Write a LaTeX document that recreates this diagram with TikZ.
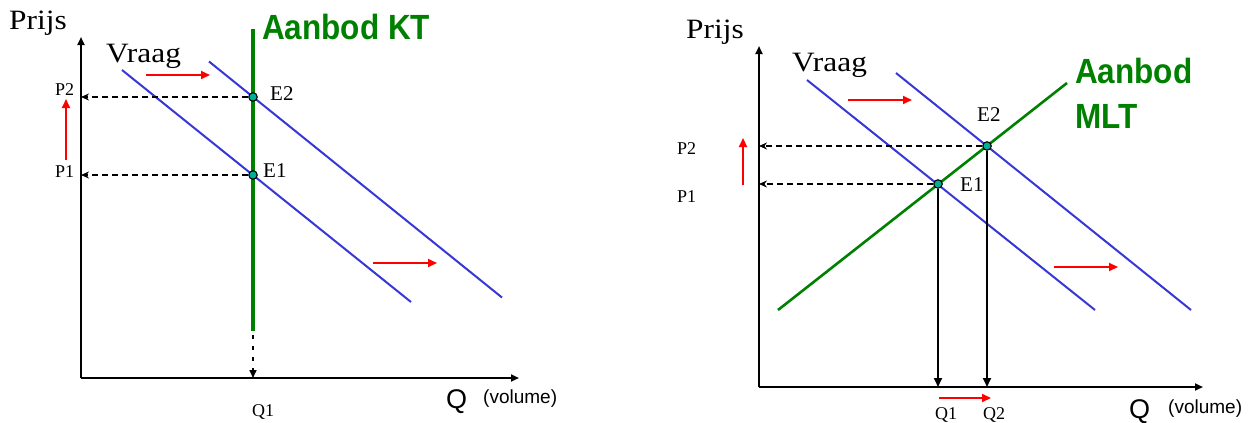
\documentclass[tikz,border=0pt]{standalone}
\usepackage{fontspec}
\setmainfont{Liberation Serif}
\newfontfamily\sansf{Liberation Sans}
\usetikzlibrary{arrows.meta}
\definecolor{dblue}{RGB}{55,55,215}
\definecolor{dgreen}{RGB}{0,128,0}
\definecolor{dotfill}{RGB}{0,175,150}
\begin{document}
\begin{tikzpicture}[x=1pt,y=-1pt,
  axis/.style={line width=2.2pt, -{Triangle[length=8pt,width=7pt]}},
  demand/.style={dblue, line width=2pt},
  supply/.style={dgreen, line width=2.6pt},
  supplyv/.style={dgreen, line width=4pt},
  shiftarr/.style={red, line width=2pt, -{Triangle[length=9pt,width=8pt]}},
  pdash/.style={line width=1.6pt, dash pattern=on 6pt off 4pt, -{Stealth[length=8pt,width=7pt]}},
  dotarr/.style={line width=1.6pt, dash pattern=on 4pt off 7pt, -{Triangle[length=8pt,width=7pt]}},
  vline/.style={line width=1.7pt, -{Triangle[length=9pt,width=8pt]}},
  eqdot/.style={circle, draw=black, fill=dotfill, inner sep=0pt, minimum size=8.5pt, line width=1.1pt},
  lab/.style={inner sep=0pt, anchor=base west},
  bigserif/.style={font=\fontsize{28}{28}\selectfont},
  small/.style={font=\fontsize{18}{18}\selectfont},
  elab/.style={font=\fontsize{21}{21}\selectfont},
  greenlab/.style={text=dgreen, font=\sansf\bfseries\fontsize{35}{35}\selectfont},
  qlab/.style={font=\sansf\fontsize{27}{27}\selectfont},
  vollab/.style={font=\sansf\fontsize{19}{19}\selectfont}
]
\fill[white] (0,0) rectangle (1251,423);
\useasboundingbox (0,0) rectangle (1251,423);

% ---------------- Left diagram ----------------
\coordinate (OL) at (81,378);
\coordinate (YL) at (81,37);
\coordinate (XL) at (519,378);
\draw[axis] (OL) -- (YL);
\draw[axis] (OL) -- (XL);

\coordinate (D1La) at (122,70);  \coordinate (D1Lb) at (411,302);
\coordinate (D2La) at (209,61.5);  \coordinate (D2Lb) at (502,297.5);
\draw[demand] (D1La) -- (D1Lb);
\draw[demand] (D2La) -- (D2Lb);

\coordinate (SLt) at (253,29); \coordinate (SLb) at (253,331);
\draw[supplyv] (SLt) -- (SLb);
\coordinate (SLd) at (253,335); \coordinate (Q1Lax) at (253,378);
\draw[dotarr] (SLd) -- (Q1Lax);

\node[eqdot] (E2L) at (253,97) {};
\node[eqdot] (E1L) at (253,175) {};
\coordinate (P2Lax) at (81,97);
\coordinate (P1Lax) at (81,175);
\draw[pdash] (E2L) -- (P2Lax);
\draw[pdash] (E1L) -- (P1Lax);

\coordinate (rL1a) at (146,75);  \coordinate (rL1b) at (210,75);
\coordinate (rL2a) at (373,263); \coordinate (rL2b) at (437,263);
\coordinate (rL3a) at (66,160);  \coordinate (rL3b) at (66,99);
\draw[shiftarr] (rL1a) -- (rL1b);
\draw[shiftarr] (rL2a) -- (rL2b);
\draw[shiftarr] (rL3a) -- (rL3b);

\node[lab, bigserif] (prijsL) at (9,29) {\scalebox{1.12}[1]{Prijs}};
\node[lab, bigserif] (vraagL) at (106,62) {\scalebox{1.12}[1]{Vraag}};
\node[lab, greenlab] (aanbodKT) at (262,39) {\scalebox{0.9}[1]{Aanbod KT}};
\node[lab, elab] (E2Llab) at (270,100) {E2};
\node[lab, elab] (E1Llab) at (263,177) {E1};
\node[lab, small] (P2Llab) at (55,95) {P2};
\node[lab, small] (P1Llab) at (55,177) {P1};
\node[lab, small] (Q1Llab) at (252,416) {Q1};
\node[lab, qlab] (QL) at (446,408) {Q};
\node[lab, vollab] (volL) at (483,403) {(volume)};

% ---------------- Right diagram ----------------
\coordinate (OR) at (759,387);
\coordinate (YR) at (759,46);
\coordinate (XR) at (1203,387);
\draw[axis] (OR) -- (YR);
\draw[axis] (OR) -- (XR);

\coordinate (D1Ra) at (807,80);  \coordinate (D1Rb) at (1095,310);
\coordinate (D2Ra) at (896,73);  \coordinate (D2Rb) at (1191,310);
\draw[demand] (D1Ra) -- (D1Rb);
\draw[demand] (D2Ra) -- (D2Rb);

\coordinate (SRa) at (778,310); \coordinate (SRb) at (1067,83);
\draw[supply] (SRa) -- (SRb);

\node[eqdot] (E1R) at (938,184) {};
\node[eqdot] (E2R) at (987,146) {};
\coordinate (P2Rax) at (759,146);
\coordinate (P1Rax) at (759,184);
\draw[pdash] (E2R) -- (P2Rax);
\draw[pdash] (E1R) -- (P1Rax);
\coordinate (Q1Rax) at (938,387);
\coordinate (Q2Rax) at (987,387);
\draw[vline] (E1R) -- (Q1Rax);
\draw[vline] (E2R) -- (Q2Rax);

\coordinate (rR1a) at (848,100);  \coordinate (rR1b) at (912,100);
\coordinate (rR2a) at (1054,267); \coordinate (rR2b) at (1118,267);
\coordinate (rR3a) at (743,185);  \coordinate (rR3b) at (743,138);
\coordinate (rR4a) at (939,398);  \coordinate (rR4b) at (991,398);
\draw[shiftarr] (rR1a) -- (rR1b);
\draw[shiftarr] (rR2a) -- (rR2b);
\draw[shiftarr] (rR3a) -- (rR3b);
\draw[shiftarr] (rR4a) -- (rR4b);

\node[lab, bigserif] (prijsR) at (686,38) {\scalebox{1.12}[1]{Prijs}};
\node[lab, bigserif] (vraagR) at (792,71) {\scalebox{1.12}[1]{Vraag}};
\node[lab, greenlab] (aanbodR1) at (1075,83) {\scalebox{0.9}[1]{Aanbod}};
\node[lab, greenlab] (aanbodR2) at (1075,128) {\scalebox{0.9}[1]{MLT}};
\node[lab, elab] (E2Rlab) at (977,121) {E2};
\node[lab, elab] (E1Rlab) at (960,191) {E1};
\node[lab, small] (P2Rlab) at (677,154) {P2};
\node[lab, small] (P1Rlab) at (677,202) {P1};
\node[lab, small] (Q1Rlab) at (935,419) {Q1};
\node[lab, small] (Q2Rlab) at (983,419) {Q2};
\node[lab, qlab] (QR) at (1129,418) {Q};
\node[lab, vollab] (volR) at (1168,413) {(volume)};
\end{tikzpicture}
\end{document}
